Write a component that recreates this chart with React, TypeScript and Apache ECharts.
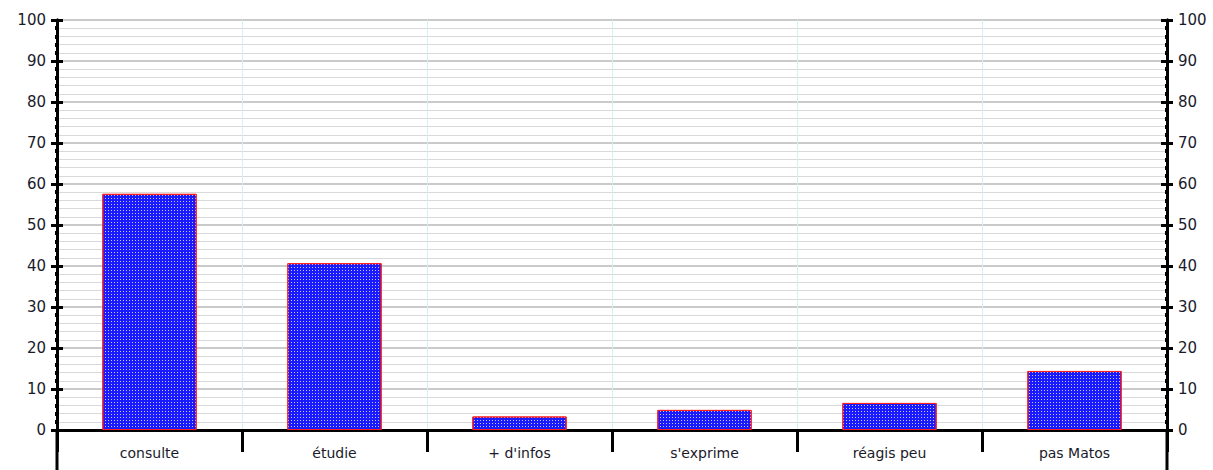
import React, { useEffect, useRef } from "react";
import * as echarts from "echarts";

const categories = ["consulte", "étudie", "+ d'infos", "s'exprime", "réagis peu", "pas Matos"];
const values = [57.6, 40.7, 3.3, 4.9, 6.6, 14.4];
const yMin = 0;
const yMax = 100;
const yInterval = 10;

const FONT = "DejaVu Sans";

export default function App() {
  const ref = useRef<HTMLDivElement>(null);
  useEffect(() => {
    if (!ref.current) return;
    const chart = echarts.init(ref.current, null, { renderer: "svg" });
    const gridLeft = 57;
    const gridRight = 46;
    const gridTop = 20;
    const gridBottom = 40;
    const W = 1213;
    const H = 470;
    const yAxisBase = (position: "left" | "right", withLabels: boolean, inside: boolean, grid: boolean) => ({
      type: "value" as const,
      position,
      min: yMin,
      max: yMax,
      interval: yInterval,
      axisLine: { show: true, lineStyle: { color: "#000", width: 3 } },
      axisTick: { show: true, inside, length: 6, lineStyle: { color: "#000", width: 3 } },
      minorTick: { show: true, splitNumber: 5, length: 2, lineStyle: { color: "#000", width: 4 } },
      axisLabel: {
        show: withLabels,
        color: "#1a1a2a",
        fontFamily: FONT,
        fontSize: 15,
        margin: 11,
      },
      splitLine: { show: grid, lineStyle: { color: "#b8b8b8", width: 1.5 } },
      minorSplitLine: { show: grid, lineStyle: { color: "#d9d9d9", width: 1 } },
    });
    chart.setOption({
      animation: false,
      backgroundColor: "#fff",
      grid: { left: gridLeft, right: gridRight, top: gridTop, bottom: gridBottom, containLabel: false },
      xAxis: {
        type: "category",
        data: categories,
        boundaryGap: true,
        axisLine: { show: true, lineStyle: { color: "#000", width: 3 } },
        axisTick: { show: true, length: 22, alignWithLabel: false, lineStyle: { color: "#000", width: 3 } },
        axisLabel: { color: "#1a1a2a", fontFamily: FONT, fontSize: 14, margin: 16 },
        splitLine: { show: true, lineStyle: { color: "#d3f0f0", width: 1 } },
      },
      yAxis: [
        yAxisBase("left", true, false, true),
        yAxisBase("right", true, false, false),
        yAxisBase("left", false, true, false),
        yAxisBase("right", false, true, false),
      ],
      series: [
        {
          type: "bar",
          data: values,
          barWidth: "51%",
          itemStyle: {
            color: "#1a1aff",
            borderColor: "#ff2020",
            borderWidth: 1,
            decal: {
              symbol: "rect",
              symbolSize: 1,
              color: "rgba(255,255,255,0.75)",
              dashArrayX: [1, 2],
              dashArrayY: [1, 2],
              rotation: 0,
            },
          },
        },
      ],
      graphic: [
        {
          type: "line",
          shape: { x1: gridLeft, y1: H - gridBottom, x2: gridLeft, y2: H },
          style: { stroke: "#000", lineWidth: 3 },
        },
        {
          type: "line",
          shape: { x1: W - gridRight, y1: H - gridBottom, x2: W - gridRight, y2: H },
          style: { stroke: "#000", lineWidth: 3 },
        },
      ],
    });
    return () => chart.dispose();
  }, []);
  return (
    <div
      ref={ref}
      style={{ position: "fixed", left: 0, top: 0, width: 1213, height: 470 }}
    />
  );
}
